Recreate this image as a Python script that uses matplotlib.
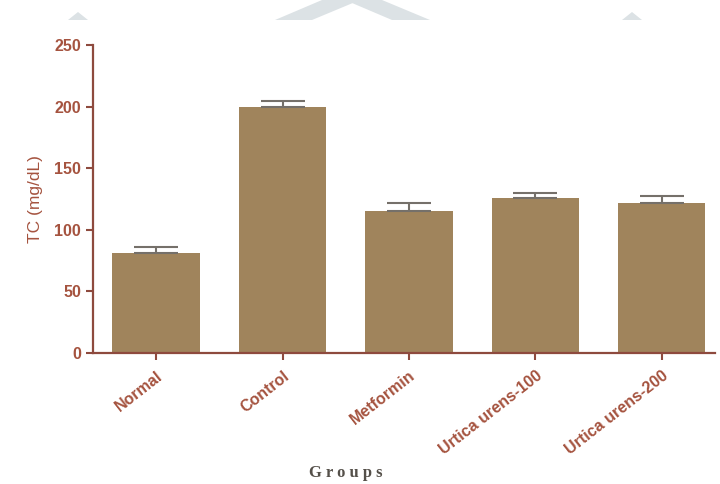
import matplotlib
matplotlib.use("Agg")
import matplotlib.pyplot as plt
from matplotlib.patches import Polygon
import numpy as np

groups = ["Normal", "Control", "Metformin", "Urtica urens-100", "Urtica urens-200"]
tc_mean = [81, 200, 115, 126, 122]
tc_sem = [5, 4.5, 7, 4, 5]
y_ticks = [0, 50, 100, 150, 200, 250]

bar_color = "#A0845C"
axis_color = "#8E4A3E"
label_color = "#A5533F"
err_color = "#75706A"

plt.rcParams["font.family"] = ["Liberation Sans", "DejaVu Sans"]

W, H = 720, 484
fig = plt.figure(figsize=(W / 100, H / 100), dpi=100)


def px_poly(points, color):
    pts = [(px / W, 1 - py / H) for px, py in points]
    fig.patches.append(Polygon(pts, closed=True, transform=fig.transFigure,
                               facecolor=color, edgecolor="none", zorder=0))


# faint header emblem
emblem = "#DCE2E5"
px_poly([(275, 20), (312, 20), (360, 0), (322, 0)], emblem)
px_poly([(392, 20), (430, 20), (382, 0), (345, 0)], emblem)
px_poly([(68, 20), (78, 12), (88, 20)], emblem)
px_poly([(622, 20), (632, 12), (642, 20)], emblem)

ax = fig.add_axes([0.129, 0.271, 0.864, 0.636])

x = np.arange(len(groups))
ax.bar(x, tc_mean, width=0.69, color=bar_color, edgecolor="none", zorder=2)
ax.errorbar(x, tc_mean, yerr=[np.zeros(len(tc_sem)), tc_sem], fmt="none",
            ecolor=err_color, elinewidth=1.5, capsize=16, capthick=1.5, zorder=3)

ax.set_xlim(-0.5, 4.42)
ax.set_ylim(0, 250)
ax.set_yticks(y_ticks)
ax.set_xticks(x)
ax.set_xticklabels(groups, rotation=38, ha="right", rotation_mode="anchor",
                   fontsize=11.5, fontweight="bold", color=label_color)
ax.tick_params(axis="y", labelsize=11.5, labelcolor=label_color, color=axis_color,
               width=1.5, length=5)
for t in ax.get_yticklabels():
    t.set_fontweight("bold")
ax.tick_params(axis="x", color=axis_color, width=1.5, length=5, pad=6)

for side in ("top", "right"):
    ax.spines[side].set_visible(False)
for side in ("left", "bottom"):
    ax.spines[side].set_color(axis_color)
    ax.spines[side].set_linewidth(1.6)

ax.set_ylabel("TC (mg/dL)", fontsize=12.5, color=label_color, labelpad=8)
fig.text(0.48, 0.015, "G r o u p s", family="Liberation Serif", fontweight="bold",
         fontsize=12, color="#55504A", ha="center")

fig.savefig("out.png", dpi=100)
